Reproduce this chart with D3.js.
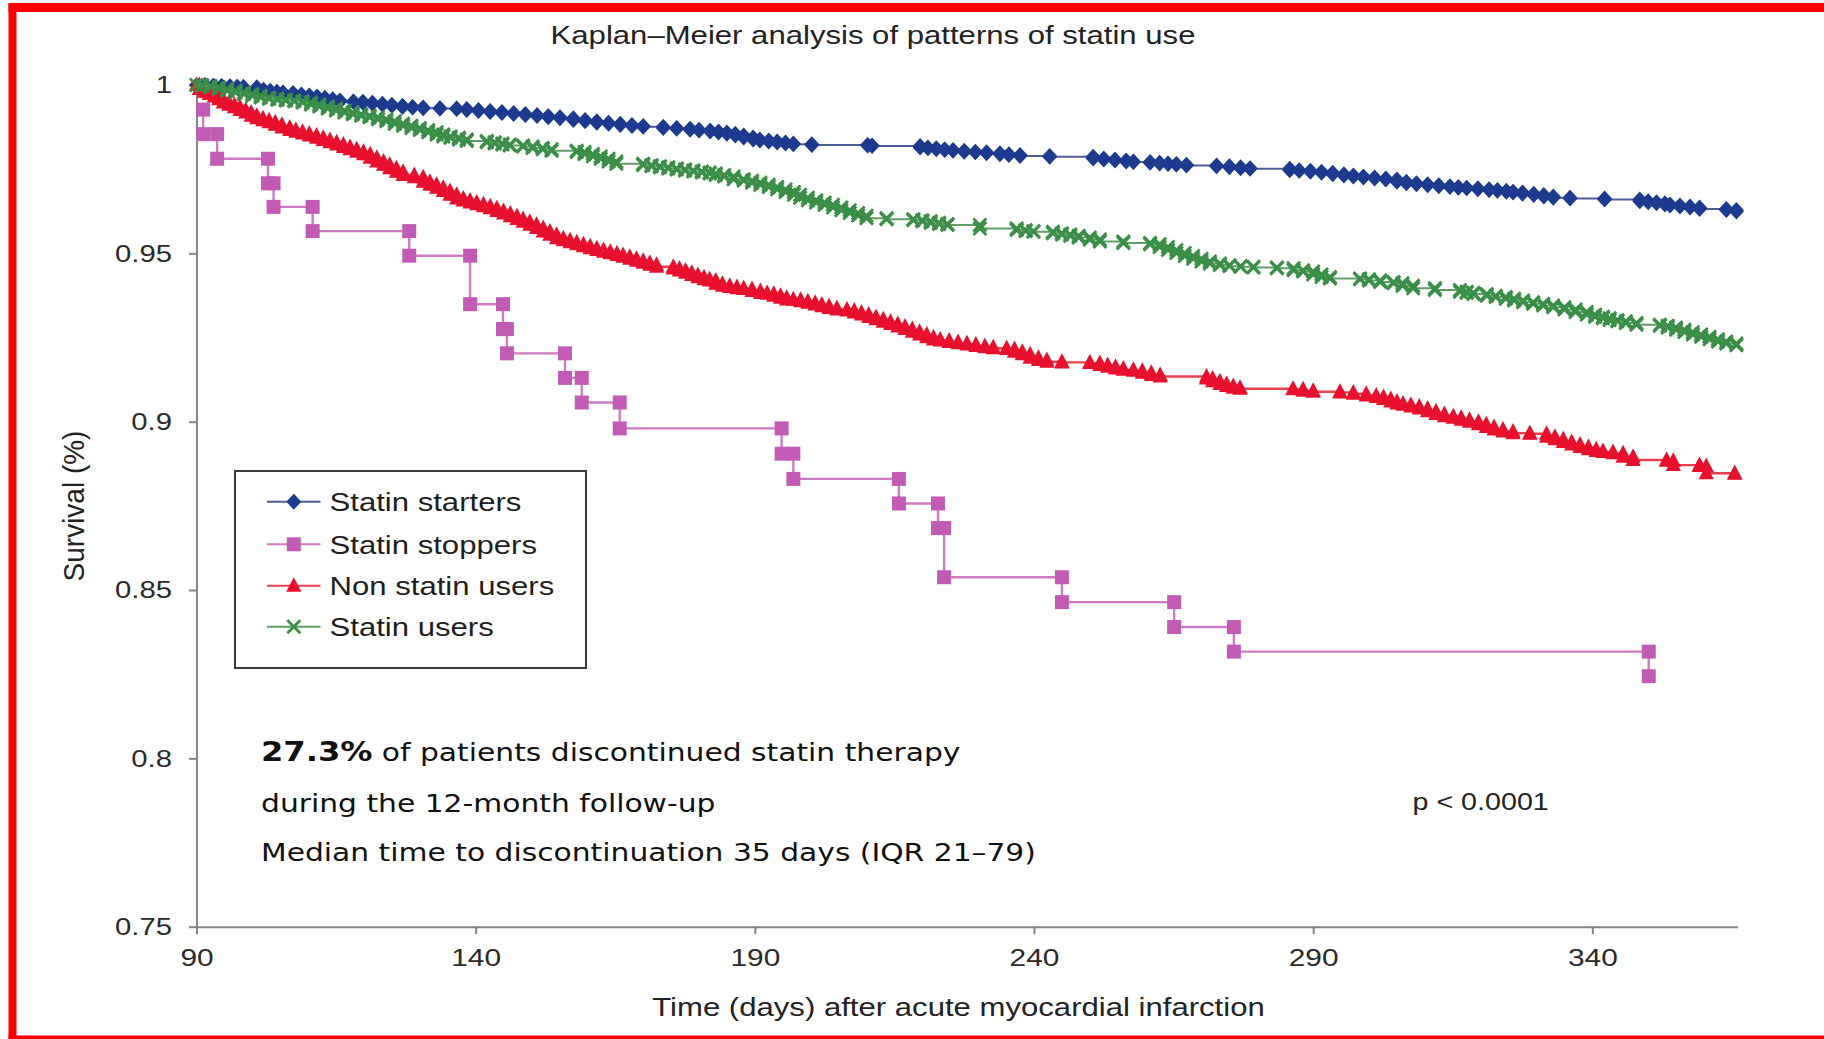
<!DOCTYPE html>
<html>
<head>
<meta charset="utf-8">
<script src="https://cdn.jsdelivr.net/npm/d3@7"></script>
<style>
  html, body { margin: 0; padding: 0; background: #ffffff; }
  svg { display: block; }
</style>
</head>
<body>
<svg id="chart" width="1824" height="1039"></svg>
<script>
// ---- Kaplan–Meier survival by pattern of statin use (day, survival after each event) ----
const starterDays = [90, 91.5, 93, 94.5, 96, 97.3, 98.4, 100.8, 102, 103.2, 104.4, 105.5, 107.3, 108.8, 110.2, 111.6, 113, 114.4, 115.7,
  118.1, 119.8, 121.5, 123.3, 125, 126.9, 128.7, 130.6, 133.6, 136.6, 138.4, 140.5, 142.6, 144.7, 146.8, 148.9, 151, 153, 155.1,
  157.5, 159.6, 161.7, 163.8, 165.9, 168, 170, 173.6, 176, 178.4, 180, 182, 183.5, 185, 186.5, 188, 189.7, 190.9, 192.5, 194, 195.5,
  196.9, 200.2, 210.2, 211, 219.6, 221, 222.5, 224, 225.5, 227.5, 229.5, 231.5, 233.9, 235.5, 237.5, 242.8, 250.6, 252.5, 254.5,
  256.5, 257.8, 260.8, 262.5, 264, 265.5, 267.3, 272.7, 275, 277, 278.7, 285.8, 287.5, 289.5, 291.5, 293.5, 295.5, 297.2, 299, 301,
  303, 305, 306.7, 308.5, 310.5, 312.5, 314.5, 316, 317.5, 319.5, 321.5, 323, 324.6, 325.8, 327.5, 329.5, 331.3, 333, 336, 342.2,
  348.5, 350, 351.5, 353, 353.9, 355.7, 357.5, 359.2, 364, 365.8];
const starterSurv = [1, 0.9998, 0.9997, 0.9996, 0.9995, 0.9994, 0.9993, 0.9986, 0.9983, 0.998, 0.9978, 0.9976, 0.9972, 0.9969, 0.9966,
  0.9962, 0.9958, 0.9954, 0.9951, 0.995, 0.9947, 0.9944, 0.9941, 0.9938, 0.9935, 0.9933, 0.9931, 0.993, 0.9929, 0.9926, 0.9923,
  0.992, 0.9917, 0.9914, 0.9911, 0.9908, 0.9904, 0.9901, 0.9896, 0.9892, 0.9888, 0.9885, 0.9881, 0.9878, 0.9876, 0.9872, 0.987,
  0.9867, 0.9865, 0.9862, 0.9859, 0.9855, 0.985, 0.9844, 0.9838, 0.9835, 0.9832, 0.9829, 0.9826, 0.9824, 0.9822, 0.982, 0.9819,
  0.9814, 0.9812, 0.9809, 0.9807, 0.9805, 0.9802, 0.98, 0.9797, 0.9794, 0.9792, 0.9789, 0.9787, 0.9782, 0.9779, 0.9776, 0.9773,
  0.9771, 0.9769, 0.9767, 0.9765, 0.9763, 0.9761, 0.9759, 0.9756, 0.9753, 0.9751, 0.9747, 0.9745, 0.9742, 0.9739, 0.9735, 0.9731,
  0.9728, 0.9725, 0.9722, 0.9719, 0.9713, 0.9708, 0.9705, 0.9702, 0.9699, 0.9697, 0.9695, 0.9693, 0.969, 0.9688, 0.9686, 0.9683,
  0.9681, 0.9677, 0.9673, 0.9669, 0.9665, 0.9663, 0.966, 0.9655, 0.9652, 0.9649, 0.9645, 0.9642, 0.9639, 0.9636, 0.9632, 0.9629,
  0.9624];

const stopperDays = [90, 91.2, 93.7, 102.8, 103.8, 110.8, 128.1, 139.0, 144.9, 145.6, 156.0, 159.0, 165.8, 194.8, 196.9, 215.8,
  222.8, 223.9, 245.0, 265.1, 275.8, 350.1];
const stopperSurv = [0.9927, 0.9854, 0.9781, 0.9708, 0.9638, 0.9566, 0.9493, 0.9349, 0.9275, 0.9203, 0.913, 0.9057, 0.898, 0.8905,
  0.883, 0.8757, 0.8684, 0.8538, 0.8464, 0.839, 0.8317, 0.8244];

const nonUserDays = [90, 90.5, 91.4, 92.3, 93.2, 94, 94.8, 95.8, 96.8, 97.8, 98.8, 99.8, 100.8, 101.9, 103, 104.1, 105.3, 106.7, 107.8,
  109, 110.2, 111.5, 112.7, 113.9, 115.1, 116.3, 117.5, 118.7, 119.9, 121.1, 122.3, 123.5, 124.6, 125.8, 127, 129, 130.6, 131.8,
  133, 134.2, 135.4, 136.6, 137.8, 139, 140.2, 141.4, 142.6, 143.8, 145, 146.2, 147.4, 148.5, 149.7, 150.9, 152.1, 153.3, 154.5,
  155.7, 156.9, 158.1, 159.3, 160.5, 161.7, 162.9, 164.1, 165.3, 166.4, 167.6, 168.8, 170, 171.2, 172.4, 175.4, 176.5, 177.6,
  178.7, 179.8, 180.9, 181.9, 183, 184.2, 185.5, 186.8, 188, 189.5, 191, 192.2, 193.4, 194.6, 195.7, 196.9, 198.2, 199.5, 200.8,
  202, 203.3, 204.7, 206.5, 207.8, 209.1, 210.4, 211.7, 213, 214.3, 215.6, 216.9, 218.2, 219.5, 220.8, 222, 223.2, 224.8, 226.4,
  228, 229.6, 231.2, 232.7, 235.1, 236.5, 237.9, 239.3, 240.8, 242.3, 245, 250, 251.8, 253.2, 254.6, 256, 257.8, 259.4, 261,
  262.6, 270.9, 272, 273.3, 274.5, 275.7, 276.9, 286.4, 288.2, 290, 294.8, 297.2, 299.5, 301.3, 302.6, 303.9, 305, 306.1, 307.5,
  309, 310.5, 312, 313.5, 315.1, 316.5, 318, 319.6, 321, 322.4, 324, 325.8, 328.8, 331.8, 333.3, 334.8, 336.3, 337.8, 339.3,
  340.7, 341.9, 343.7, 345.5, 347.3, 353.3, 354.5, 359.2, 360.4, 365.5];
const nonUserSurv = [1, 0.9988, 0.998, 0.9973, 0.9966, 0.9958, 0.9948, 0.9941, 0.9934, 0.9926, 0.9918, 0.9909, 0.9901, 0.9895, 0.9889,
  0.9882, 0.9874, 0.9866, 0.9861, 0.9856, 0.985, 0.9843, 0.9837, 0.983, 0.9823, 0.9816, 0.9809, 0.9802, 0.9794, 0.9784, 0.9773,
  0.9763, 0.9753, 0.9742, 0.9733, 0.9726, 0.9713, 0.9704, 0.9695, 0.9685, 0.9674, 0.9663, 0.9657, 0.9651, 0.9646, 0.964, 0.9634,
  0.9626, 0.9618, 0.961, 0.9602, 0.9594, 0.9585, 0.9575, 0.9565, 0.9555, 0.9545, 0.9539, 0.9533, 0.9527, 0.9521, 0.9515, 0.951,
  0.9505, 0.95, 0.9495, 0.949, 0.9484, 0.9478, 0.9472, 0.9466, 0.946, 0.9455, 0.9449, 0.9442, 0.9436, 0.9429, 0.9423, 0.9419,
  0.941, 0.9404, 0.94, 0.9396, 0.9394, 0.9388, 0.9382, 0.938, 0.9374, 0.9368, 0.9363, 0.9362, 0.9358, 0.9353, 0.9348, 0.9343,
  0.9338, 0.9333, 0.933, 0.9324, 0.9318, 0.9311, 0.9304, 0.9297, 0.929, 0.9283, 0.9275, 0.9267, 0.9259, 0.9251, 0.9244, 0.9241,
  0.9237, 0.9233, 0.9229, 0.9225, 0.9221, 0.9218, 0.9216, 0.9208, 0.92, 0.919, 0.9183, 0.9178, 0.9176, 0.9174, 0.9168, 0.9163,
  0.9158, 0.9154, 0.9151, 0.9145, 0.9139, 0.9134, 0.9128, 0.912, 0.9112, 0.9106, 0.9101, 0.9098, 0.9096, 0.9092, 0.9089, 0.9087,
  0.9083, 0.9078, 0.9073, 0.9067, 0.906, 0.9054, 0.905, 0.9045, 0.9039, 0.9031, 0.9023, 0.9016, 0.9012, 0.9006, 0.9, 0.8992,
  0.8984, 0.8977, 0.8971, 0.8966, 0.8964, 0.8955, 0.8948, 0.894, 0.8932, 0.8925, 0.8918, 0.8913, 0.891, 0.8906, 0.8896, 0.8886,
  0.8884, 0.8871, 0.8868, 0.8847, 0.8845];

const userDays = [90, 91, 92.5, 94, 95.5, 97, 98.5, 100, 101.5, 103, 104.5, 106, 107.5, 109, 110.5, 112, 113.5, 115, 116.5, 118, 119.5,
  121, 122.5, 124, 125.5, 127, 128.5, 130, 131.5, 133, 134.2, 135.5, 137, 138.4, 142, 143.4, 144.8, 146.1, 148.5, 150.2, 152, 153.6,
  158.1, 159.5, 161, 162.4, 163.8, 165.2, 170, 171.5, 173, 174.5, 176, 177.5, 179, 180.5, 181.9, 183, 184.5, 186.2, 188, 189.5, 191,
  192.5, 194, 195.5, 197, 198.1, 199.5, 201, 202.5, 204, 205.5, 207, 208.5, 210, 213.6, 218.4, 220, 221.5, 223, 224.5, 230.3,
  236.9, 238.5, 239.9, 243.4, 245, 246.5, 248, 250, 251.8, 256, 260.8, 262.5, 264, 265.5, 267, 268.5, 270, 271.5, 273.3, 275, 277,
  279.3, 283.5, 286.5, 288.2, 290, 291.5, 293, 298.4, 300, 302, 304.4, 306, 307.9, 311.8, 316.3, 317.5, 318.7, 321.1, 322.7, 324.5,
  326, 327.6, 329.4, 331.2, 333, 335, 337, 339, 340.5, 341.9, 343.1, 344.5, 346, 347.9, 352.1, 353.5, 355, 356.5, 358, 359.5, 361,
  362.5, 364, 365.8];
const userSurv = [1, 0.9997, 0.9993, 0.9988, 0.9983, 0.9978, 0.9973, 0.9968, 0.9963, 0.9959, 0.9956, 0.9954, 0.9952, 0.9948, 0.9942,
  0.9936, 0.993, 0.9924, 0.9918, 0.9913, 0.9909, 0.9904, 0.9898, 0.9892, 0.9885, 0.9879, 0.9872, 0.9866, 0.986, 0.9853, 0.9847,
  0.9843, 0.9838, 0.9834, 0.983, 0.9826, 0.9823, 0.982, 0.9817, 0.9813, 0.9809, 0.9805, 0.9801, 0.9795, 0.9788, 0.9781, 0.9773,
  0.9766, 0.9762, 0.9759, 0.9756, 0.9752, 0.9749, 0.9746, 0.9743, 0.974, 0.9737, 0.9733, 0.9728, 0.972, 0.9716, 0.971, 0.9704,
  0.9697, 0.969, 0.9682, 0.9674, 0.9665, 0.9658, 0.9651, 0.9644, 0.9636, 0.9628, 0.962, 0.9612, 0.9604, 0.9601, 0.9598, 0.9595,
  0.9591, 0.9587, 0.9584, 0.9574, 0.9569, 0.9566, 0.9564, 0.956, 0.9556, 0.9552, 0.9547, 0.9541, 0.9535, 0.9531, 0.9527, 0.9519,
  0.951, 0.9501, 0.9492, 0.9484, 0.9476, 0.947, 0.9465, 0.9462, 0.9460, 0.9458, 0.9456, 0.945, 0.9446, 0.9437, 0.943, 0.9425,
  0.9423, 0.9419, 0.9415, 0.9411, 0.9404, 0.9396, 0.9391, 0.9386, 0.9383, 0.9379, 0.9374, 0.937, 0.9365, 0.936, 0.9355, 0.935,
  0.9345, 0.934, 0.9333, 0.9326, 0.9318, 0.9312, 0.9307, 0.9302, 0.9298, 0.9293, 0.9288, 0.9285, 0.928, 0.9273, 0.9266, 0.9259,
  0.9252, 0.9245, 0.9238, 0.9232, 0.9227];

const seriesNames = ["Statin starters", "Statin stoppers", "Non statin users", "Statin users"];
const xTicks = [90, 140, 190, 240, 290, 340];
const yTicks = [0.75, 0.8, 0.85, 0.9, 0.95, 1];
const noteLines = ["of patients discontinued statin therapy", "during the 12-month follow-up",
  "Median time to discontinuation 35 days (IQR 21\u201379)"];
const noteBold = "27.3%";
const pValueText = "p < 0.0001";

// ---- layout ----
const svg = d3.select("#chart");
const SANS = "'Liberation Sans', Arial, Helvetica, sans-serif";
const WIDE = 1.22;   // horizontal widening applied to the chart lettering

const x = d3.scaleLinear().domain([90, 366]).range([196.5, 1737.5]);
const y = d3.scaleLinear().domain([0.75, 1]).range([926.7, 85]);

// frame
svg.append("rect").attr("x", 0).attr("y", 0).attr("width", 1824).attr("height", 1039).attr("fill", "#fff");
svg.append("rect").attr("x", 8.5).attr("y", 3).attr("width", 1815.5).attr("height", 9).attr("fill", "#fe0000");
svg.append("rect").attr("x", 8.5).attr("y", 3).attr("width", 8).attr("height", 1036).attr("fill", "#fe0000");
svg.append("rect").attr("x", 8.5).attr("y", 1035.5).attr("width", 1815.5).attr("height", 3.5).attr("fill", "#fe0000");

// title
svg.append("text")
  .attr("transform", `translate(873,44) scale(${WIDE},1)`)
  .attr("text-anchor", "middle")
  .style("font-family", SANS).style("font-size", "25.5px").style("fill", "#222")
  .text("Kaplan\u2013Meier analysis of patterns of statin use");

// axes
const axisColor = "#858585";
const gx = svg.append("g").attr("transform", `translate(0,${y(0.75)})`)
  .call(d3.axisBottom(x).tickValues(xTicks).tickSize(7.5).tickSizeOuter(0).tickFormat(d3.format("d")));
const gy = svg.append("g").attr("transform", `translate(${x(90)},0)`)
  .call(d3.axisLeft(y).tickValues(yTicks).tickSize(7.5).tickSizeOuter(0).tickFormat(d => d3.format("")(d)));

[gx, gy].forEach(g => {
  g.select(".domain").attr("stroke", axisColor).attr("stroke-width", 2);
  g.selectAll(".tick line").attr("stroke", axisColor).attr("stroke-width", 2);
  g.selectAll(".tick text").style("font-family", SANS).style("fill", "#2a2a2a")
    .attr("transform", `scale(${WIDE},1)`);
});
gx.selectAll(".tick text").style("font-size", "24.5px").attr("y", 22).attr("dy", "0.71em");
gy.selectAll(".tick text").style("font-size", "24px").attr("x", -24.5 / WIDE);

// axis titles
svg.append("text")
  .attr("transform", `translate(958.5,1016) scale(${WIDE},1)`)
  .attr("text-anchor", "middle")
  .style("font-family", SANS).style("font-size", "25.5px").style("fill", "#222")
  .text("Time (days) after acute myocardial infarction");
svg.append("text")
  .attr("transform", "translate(84,506) rotate(-90) scale(1,1.08)")
  .attr("text-anchor", "middle")
  .style("font-family", SANS).style("font-size", "28px").style("fill", "#222")
  .text("Survival (%)");

// marker shapes
const shapes = {
  diamond: "M0,-8L7.5,0L0,8L-7.5,0Z",
  square: "M-7,-7H7V7H-7Z",
  triangle: "M0,-8.5L7.6,6L-7.6,6Z",
  cross: "M-6.5,-6.5L6.5,6.5M6.5,-6.5L-6.5,6.5"
};

const series = [
  { name: seriesNames[0], days: starterDays, surv: starterSurv, color: "#1c3a8e", line: "#4d5d98", lw: 2, shape: "diamond", startMark: true },
  { name: seriesNames[1], days: stopperDays, surv: stopperSurv, color: "#c25bb6", line: "#cf7bc4", lw: 2.4, shape: "square", startMark: false },
  { name: seriesNames[2], days: nonUserDays, surv: nonUserSurv, color: "#e8102c", line: "#e8414f", lw: 2.4, shape: "triangle", startMark: true },
  { name: seriesNames[3], days: userDays, surv: userSurv, color: "#3a8f47", line: "#5f9f67", lw: 2, shape: "cross", startMark: true }
];

function drawMarker(g, shape, color, px, py) {
  const p = g.append("path").attr("d", shapes[shape]).attr("transform", `translate(${px},${py})`);
  if (shape === "cross") p.attr("fill", "none").attr("stroke", color).attr("stroke-width", 2.8);
  else p.attr("fill", color);
}

const stepLine = d3.line().x(d => x(d[0])).y(d => y(d[1])).curve(d3.curveStepAfter);

series.forEach(s => {
  const pts = s.days.map((d, i) => [d, s.surv[i]]);
  const g = svg.append("g");
  g.append("path").datum(pts).attr("d", stepLine)
    .attr("fill", "none").attr("stroke", s.line).attr("stroke-width", s.lw);
  // a marker above and below every drop of the step curve
  pts.forEach((p, i) => {
    if (i === 0) {
      if (s.startMark) drawMarker(g, s.shape, s.color, x(p[0]), y(p[1]));
      return;
    }
    drawMarker(g, s.shape, s.color, x(p[0]), y(pts[i - 1][1]));
    drawMarker(g, s.shape, s.color, x(p[0]), y(p[1]));
  });
});

// legend
const lg = svg.append("g");
lg.append("rect").attr("x", 235).attr("y", 471).attr("width", 351).attr("height", 197)
  .attr("fill", "#fff").attr("stroke", "#3a3a3a").attr("stroke-width", 2);
const rowY = [501.7, 544.3, 585.7, 626.7];
series.forEach((s, i) => {
  lg.append("line").attr("x1", 267).attr("x2", 320.5).attr("y1", rowY[i]).attr("y2", rowY[i])
    .attr("stroke", s.line).attr("stroke-width", 2);
  drawMarker(lg, s.shape, s.color, 293.8, rowY[i]);
  lg.append("text")
    .attr("transform", `translate(329.5,${rowY[i] + 9.3}) scale(${WIDE},1)`)
    .style("font-family", SANS).style("font-size", "25.5px").style("fill", "#1e1e1e")
    .text(s.name);
});

// annotations
const NOTE_FONT = "'DejaVu Sans', Verdana, sans-serif";
const noteBase = [760.7, 811.7, 860.7];
noteLines.forEach((line, i) => {
  const t = svg.append("text")
    .attr("transform", `translate(261,${noteBase[i]}) scale(1.19,1)`)
    .style("font-family", NOTE_FONT).style("font-size", "25px").style("fill", "#111");
  if (i === 0) {
    t.append("tspan").style("font-weight", "bold").style("font-size", "27px").text(noteBold);
    t.append("tspan").text(" " + line);
  } else {
    t.text(line);
  }
});

svg.append("text")
  .attr("transform", `translate(1412.5,810) scale(${WIDE},1)`)
  .style("font-family", SANS).style("font-size", "23.5px").style("fill", "#222")
  .text(pValueText);
</script>
</body>
</html>
